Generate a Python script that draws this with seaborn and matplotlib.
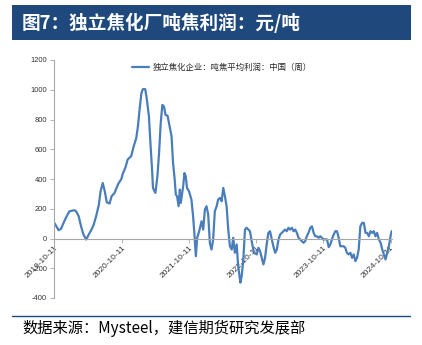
import matplotlib
matplotlib.use("Agg")
import matplotlib.pyplot as plt
from matplotlib.patches import Rectangle
from matplotlib.lines import Line2D
import seaborn as sns
import pandas as pd

dates = [
    "2019-10-11", "2019-10-24", "2019-11-03", "2019-11-16", "2019-12-04", "2019-12-17",
    "2020-01-01", "2020-01-28", "2020-02-06", "2020-02-20", "2020-03-04", "2020-03-17",
    "2020-04-01", "2020-04-15", "2020-04-30", "2020-05-12", "2020-05-25", "2020-06-09",
    "2020-06-18", "2020-06-30", "2020-07-11", "2020-07-22", "2020-08-06", "2020-08-17",
    "2020-09-02", "2020-09-11", "2020-09-22", "2020-10-09", "2020-10-17", "2020-11-01",
    "2020-11-12", "2020-12-02", "2020-12-15", "2020-12-29", "2021-01-07", "2021-01-16",
    "2021-01-26", "2021-02-03", "2021-02-16", "2021-02-25", "2021-03-08", "2021-03-16",
    "2021-03-25", "2021-03-30", "2021-04-12", "2021-04-23", "2021-05-02", "2021-05-11",
    "2021-05-20", "2021-05-29", "2021-06-06", "2021-06-17", "2021-06-25", "2021-07-09",
    "2021-07-17", "2021-07-26", "2021-08-01", "2021-08-08", "2021-08-16", "2021-08-23",
    "2021-08-28", "2021-09-10", "2021-09-17", "2021-09-24", "2021-10-01", "2021-10-12",
    "2021-10-25", "2021-11-03", "2021-11-11", "2021-11-18", "2021-11-25", "2021-12-06",
    "2021-12-19", "2021-12-28", "2022-01-06", "2022-01-15", "2022-01-24", "2022-02-02",
    "2022-02-11", "2022-02-20", "2022-03-01", "2022-03-11", "2022-03-19", "2022-03-29",
    "2022-04-07", "2022-04-16", "2022-04-25", "2022-05-04", "2022-05-13", "2022-05-22",
    "2022-06-01", "2022-06-09", "2022-06-18", "2022-06-28", "2022-07-06", "2022-07-18",
    "2022-07-25", "2022-08-03", "2022-08-12", "2022-08-21", "2022-08-30", "2022-09-08",
    "2022-09-19", "2022-09-30", "2022-10-15", "2022-10-24", "2022-11-02", "2022-11-11",
    "2022-11-20", "2022-11-29", "2022-12-09", "2022-12-17", "2022-12-26", "2023-01-05",
    "2023-01-13", "2023-01-23", "2023-02-01", "2023-02-10", "2023-02-19", "2023-02-28",
    "2023-03-09", "2023-03-18", "2023-03-27", "2023-04-05", "2023-04-14", "2023-04-24",
    "2023-05-03", "2023-05-12", "2023-05-21", "2023-05-30", "2023-06-08", "2023-06-17",
    "2023-06-26", "2023-07-05", "2023-07-14", "2023-07-23", "2023-08-02", "2023-08-11",
    "2023-08-20", "2023-08-29", "2023-09-07", "2023-09-16", "2023-09-25", "2023-10-04",
    "2023-10-13", "2023-10-22", "2023-11-01", "2023-11-10", "2023-11-19", "2023-12-03",
    "2023-12-16", "2023-12-25", "2024-01-03", "2024-01-12", "2024-01-21", "2024-01-30",
    "2024-02-08", "2024-02-17", "2024-02-26", "2024-03-07", "2024-03-16", "2024-03-25",
    "2024-04-03", "2024-04-12", "2024-04-21", "2024-04-30", "2024-05-10", "2024-05-19",
    "2024-05-28", "2024-06-06", "2024-06-15", "2024-06-24", "2024-07-03", "2024-07-12",
    "2024-07-21", "2024-07-30", "2024-08-09", "2024-08-18", "2024-08-27", "2024-09-05",
    "2024-09-14", "2024-09-23", "2024-10-02", "2024-10-11", "2024-10-17",
]

profit = [
    105, 78, 56, 65, 116, 150,
    183, 190, 183, 150, 82, 27,
    -7, 27, 60, 94, 150, 228,
    317, 373, 317, 243, 235, 284,
    306, 333, 367, 400, 436, 480,
    530, 555, 619, 675, 753, 865,
    977, 1004, 1004, 932, 820, 642,
    463, 340, 306, 418, 575, 776,
    898, 887, 831, 825, 776, 686,
    507, 396, 295, 284, 217, 329,
    239, 351, 440, 418, 340, 317,
    261, 150, 15, -119, 5, 49,
    116, 60, 194, 217, 161, -29,
    -74, -7, 183, 217, 261, 273,
    250, 340, 284, 217, 60, -52,
    -74, 5, -96, -40, -186, -297,
    -253, -141, 60, 72, 60, 49,
    -29, -96, -107, -62, -85, -130,
    -174, -130, -29, 38, 49, -7,
    -52, -96, -74, -7, 27, 38,
    49, 60, 49, 72, 60, 72,
    49, 60, 38, 5, -7, -18,
    -29, -18, 15, 38, 72, 82,
    38, 15, 15, 5, 15, 5,
    -7, -5, -7, -58, -40, 15,
    49, 49, 5, -52, -52, -52,
    -62, -96, -107, -96, -130, -107,
    -152, -130, -74, 82, 105, 105,
    38, 38, 15, 49, 38, 49,
    15, 38, -7, -29, -74, -107,
    -141, -96, -52, 15, 49,
]

tick_dates = ["2019-10-11", "2020-10-11", "2021-10-11", "2022-10-11", "2023-10-11", "2024-10-11"]
y_ticks = [-400, -200, 0, 200, 400, 600, 800, 1000, 1200]
series_name = "独立焦化企业：吨焦平均利润：中国（周）"
title_text = "图7：独立焦化厂吨焦利润：元/吨"
source_text = "数据来源：Mysteel，建信期货研究发展部"

df = pd.DataFrame({"date": pd.to_datetime(dates), "profit": profit})

sns.set_theme(style="white")
plt.rcParams["font.family"] = ["Noto Sans CJK SC", "DejaVu Sans"]

W, H = 422, 345
fig = plt.figure(figsize=(W / 100, H / 100), dpi=100)
fig.patch.set_facecolor("white")

ax = fig.add_axes([54 / W, 1 - 298 / H, (392 - 54) / W, (298 - 60) / H])
line_color = "#4A7EBB"
sns.lineplot(data=df, x="date", y="profit", ax=ax, color=line_color, linewidth=1.6,
             label=series_name, legend=False)

for s in ["top", "right"]:
    ax.spines[s].set_visible(False)
ax.spines["left"].set_color("#A6A6A6")
ax.spines["left"].set_linewidth(0.8)
ax.spines["bottom"].set_position(("data", 0))
ax.spines["bottom"].set_color("#A6A6A6")
ax.spines["bottom"].set_linewidth(0.8)

ax.set_ylim(-400, 1200)
ax.set_xlim(pd.Timestamp("2019-10-09"), pd.Timestamp("2024-10-19"))
ax.set_yticks(y_ticks)
ax.set_yticklabels([str(v) for v in y_ticks])
ax.set_xticks(pd.to_datetime(tick_dates))
ax.set_xticklabels(tick_dates)
ax.set_xlabel("")
ax.set_ylabel("")
ax.grid(False)
ax.set_facecolor("white")

ax.tick_params(axis="y", which="both", left=True, length=3, width=0.6, color="#A6A6A6",
               pad=2, labelsize=5.4, labelcolor="#333333")
ax.tick_params(axis="x", which="both", bottom=True, length=3, width=0.6, color="#A6A6A6",
               pad=1, labelsize=6, labelcolor="#333333")
for lab in ax.get_yticklabels():
    lab.set_family(["Liberation Sans", "DejaVu Sans"])
for lab in ax.get_xticklabels():
    lab.set_family(["Liberation Sans", "DejaVu Sans"])
    lab.set_rotation(45)
    lab.set_ha("right")
    lab.set_va("top")
    lab.set_rotation_mode("anchor")

# legend
ax.legend(loc="upper left", bbox_to_anchor=((129 - 54) / (392 - 54), 1.0), frameon=False,
          fontsize=6, handlelength=2.0, handletextpad=0.4, borderaxespad=0.0)

# title banner
fig.patches.append(Rectangle((12 / W, 1 - 40 / H), (411 - 12) / W, 35 / H,
                             transform=fig.transFigure, facecolor="#1F497D",
                             edgecolor="none", zorder=0))
fig.text(22 / W, 1 - 22.5 / H, title_text, color="white", fontsize=13.4, fontweight="bold",
         va="center", ha="left")

# footer
fig.lines.append(Line2D([12 / W, 410 / W], [1 - 316 / H, 1 - 316 / H],
                        transform=fig.transFigure, color="#1F497D", linewidth=1.0))
fig.text(22 / W, 1 - 328 / H, source_text, color="black", fontsize=11, style="italic",
         va="center", ha="left")

fig.savefig("out.png", dpi=100, facecolor="white")
